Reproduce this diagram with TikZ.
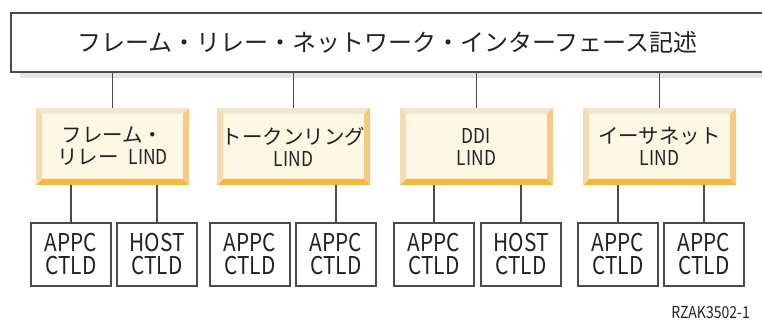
\documentclass[tikz,border=0pt]{standalone}
\usepackage{fontspec}
\setmainfont{Noto Sans CJK JP}[FakeStretch=0.85]
\newfontfamily\jp{Noto Sans CJK JP}
\usepackage{tikz}
\usetikzlibrary{shadows}
\definecolor{linegray}{HTML}{4A4A4A}
\definecolor{shadowgray}{HTML}{E2E3E5}
\definecolor{bevtop}{HTML}{F3E6D1}
\definecolor{bevleft}{HTML}{F2DCB2}
\definecolor{bevright}{HTML}{F5CB84}
\definecolor{bevbottom}{HTML}{F6B83C}
\definecolor{face}{HTML}{FDF7E5}
\definecolor{ink}{HTML}{222222}
\tikzstyle{iface}=[
        draw=linegray,
        line width=1.5pt,
        fill=white,
        minimum width=753pt,
        minimum height=59pt,
        drop shadow={shadow xshift=9pt,shadow yshift=-6pt,fill=shadowgray,opacity=1},
        font=\jp\fontsize{24}{28}\selectfont,
        text=ink
]
\tikzstyle{lind}=[
        minimum width=153pt,
        minimum height=77pt,
        inner sep=0pt,
        fill=face,
        align=center,
        text=ink,
        font=\fontsize{20.5}{22}\selectfont,
        path picture={
          \coordinate (nw) at (path picture bounding box.north west);
          \coordinate (ne) at (path picture bounding box.north east);
          \coordinate (sw) at (path picture bounding box.south west);
          \coordinate (se) at (path picture bounding box.south east);
          \fill[bevtop] (nw) -- (ne) -- ([shift={(-6pt,-6pt)}]ne) -- ([shift={(6pt,-6pt)}]nw) -- cycle;
          \fill[bevright] (ne) -- (se) -- ([shift={(-6pt,6pt)}]se) -- ([shift={(-6pt,-6pt)}]ne) -- cycle;
          \fill[bevbottom] (sw) -- (se) -- ([shift={(-6pt,6pt)}]se) -- ([shift={(6pt,6pt)}]sw) -- cycle;
          \fill[bevleft] (nw) -- (sw) -- ([shift={(6pt,6pt)}]sw) -- ([shift={(6pt,-6pt)}]nw) -- cycle;
        }
]
\tikzstyle{ctld}=[rectangle,draw=linegray,line width=1.3pt,fill=white,minimum width=80pt,minimum height=63pt,inner sep=0pt,align=center,text=ink,font=\fontsize{24.5}{23}\selectfont]
\tikzstyle{link}=[draw=linegray,line width=1.3pt]

\begin{document}
\begin{tikzpicture}[x=1pt,y=-1pt]
\useasboundingbox (0,0) rectangle (762,320);
\node[iface] (top) at (387.5,42.5) {フレーム・リレー・ネットワーク・インターフェース記述};
\node[lind] (frlind) at (112.5,146.5) {{\jp フレーム・}\\{\jp リレー}\hspace{10pt}LIND};
\node[lind] (trlind) at (293.5,146.5) {{\jp トークンリング}\\LIND};
\node[lind] (ddilind) at (476.5,146.5) {DDI\\LIND};
\node[lind] (etlind) at (659.5,146.5) {{\jp イーサネット}\\LIND};
\node[ctld] (fra) at (71,254.5) {APPC\\CTLD};
\node[ctld] (frh) at (157,254.5) {HOST\\CTLD};
\node[ctld] (tra) at (250,254.5) {APPC\\CTLD};
\node[ctld] (trb) at (336,254.5) {APPC\\CTLD};
\node[ctld] (dda) at (434,254.5) {APPC\\CTLD};
\node[ctld] (ddh) at (521,254.5) {HOST\\CTLD};
\node[ctld] (eta) at (618,254.5) {APPC\\CTLD};
\node[ctld] (etb) at (704,254.5) {APPC\\CTLD};
\node[anchor=base east,inner sep=0pt,text=ink,font=\fontsize{16.5}{16}\selectfont] (figid) at (750,318) {RZAK3502-1};
%Drawing Edges
\draw[link] (frlind) -- (frlind |- top.south);
\draw[link] (trlind) -- (trlind |- top.south);
\draw[link] (ddilind) -- (ddilind |- top.south);
\draw[link] (etlind) -- (etlind |- top.south);
\draw[link] (fra) -- (fra |- frlind.south);
\draw[link] (frh) -- (frh |- frlind.south);
\draw[link] (trb) -- (trb |- trlind.south);
\draw[link] (dda) -- (dda |- ddilind.south);
\draw[link] (ddh) -- (ddh |- ddilind.south);
\draw[link] (eta) -- (eta |- etlind.south);
\draw[link] (etb) -- (etb |- etlind.south);
\end{tikzpicture}
\end{document}
